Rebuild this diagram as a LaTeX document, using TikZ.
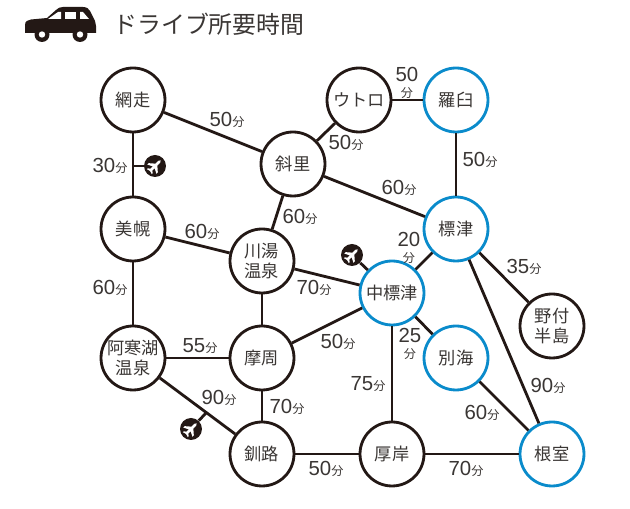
\documentclass[tikz,border=0pt]{standalone}
\usepackage{fontspec}
\setmainfont{Liberation Sans}
\newfontfamily\cjk{Noto Sans CJK JP}
\usepackage{xcolor}
\usepackage{tikz}
\definecolor{inkline}{HTML}{231815}
\definecolor{inktext}{HTML}{3A3634}
\definecolor{seablue}{HTML}{0A8BCB}
\newcommand{\fun}[1]{#1{\cjk\fontsize{6.9}{7.5}\selectfont 分}}
\newcommand{\funstack}[1]{#1\\[-2.5pt]{\cjk\fontsize{6.9}{7.5}\selectfont 分}}
\tikzset{
  town/.style={circle,draw=inkline,line width=1.6pt,fill=white,minimum size=1.28cm,inner sep=0pt,
    align=center,text=inktext,font=\cjk\fontsize{9.8}{11.3}\selectfont},
  port/.style={town,draw=seablue},
  road/.style={draw=inkline,line width=1.6pt},
  mins/.style={inner sep=0pt,text=inktext,align=center,font=\fontsize{11.6}{12}\selectfont},
  airport/.style={circle,fill=inkline,minimum size=0.44cm,inner sep=0pt},
  planemark/.pic={\fill[white,rotate=45] (8,0) -- (6,1.3) -- (2,1.3) -- (-2.5,6.5) -- (-4.5,6.5) -- (-1.8,1.3)
    -- (-5,1.3) -- (-6.8,3.4) -- (-8,3.4) -- (-7,0) -- (-8,-3.4) -- (-6.8,-3.4) -- (-5,-1.3)
    -- (-1.8,-1.3) -- (-4.5,-6.5) -- (-2.5,-6.5) -- (2,-1.3) -- (6,-1.3) -- cycle;}
}
\begin{document}
\begin{tikzpicture}[x=0.02cm,y=0.02cm]
        \useasboundingbox (0,0) rectangle (630,-509);
        % car and title
        \fill [inkline] (25,-33) -- (25,-25) .. controls (25,-21) and (28,-20) .. (31,-19.5) -- (47,-18)
          -- (56,-10) .. controls (58,-8) and (60,-7) .. (63,-7) -- (83,-7) .. controls (87,-7) and (89,-9) .. (90,-11)
          -- (95,-21) .. controls (96,-23) and (96,-24) .. (96,-26) -- (96,-33) -- cycle;
        \fill [white] (48,-19) -- (58,-12) -- (61,-12) -- (61,-19) -- cycle;
        \fill [white] (65,-12) rectangle (76,-19);
        \fill [white] (80,-12) -- (83,-12) -- (89,-19) -- (80,-19) -- cycle;
        \foreach \wx in {42,80} {
          \fill [inkline] (\wx,-34.5) circle (7.5);
          \fill [white] (\wx,-34.5) circle (3.2);
        }
        \node [anchor=west,inner sep=0pt,text=inktext,font=\cjk\fontsize{13.6}{15}\selectfont] (title) at (113,-24) {ドライブ所要時間};
        % towns
        \node [town] (abashiri) at (133,-100) {網走};
        \node [town] (shari) at (293,-164) {斜里};
        \node [town] (utoro) at (359,-100) {ウトロ};
        \node [port] (rausu) at (456,-100) {羅臼};
        \node [port] (shibetsu) at (456,-229) {標津};
        \node [port] (naka) at (392,-293) {中標津};
        \node [town] (kawayu) at (262,-261) {川湯\\温泉};
        \node [town] (bihoro) at (133,-229) {美幌};
        \node [town] (akan) at (133,-358) {阿寒湖\\温泉};
        \node [town] (mashu) at (262,-358) {摩周};
        \node [town] (kushiro) at (262,-454) {釧路};
        \node [town] (akkeshi) at (392,-454) {厚岸};
        \node [port] (nemuro) at (552,-454) {根室};
        \node [port] (bekkai) at (456,-358) {別海};
        \node [town] (notsuke) at (552,-326) {野付\\半島};
        % roads
        \draw [road] (abashiri) -- (shari);
        \draw [road] (abashiri) -- (bihoro);
        \draw [road] (shari) -- (utoro);
        \draw [road] (utoro) -- (rausu);
        \draw [road] (rausu) -- (shibetsu);
        \draw [road] (shari) -- (shibetsu);
        \draw [road] (shari) -- (kawayu);
        \draw [road] (bihoro) -- (kawayu);
        \draw [road] (bihoro) -- (akan);
        \draw [road] (kawayu) -- (naka);
        \draw [road] (kawayu) -- (mashu);
        \draw [road] (shibetsu) -- (naka);
        \draw [road] (shibetsu) -- (notsuke);
        \draw [road] (shibetsu) -- (nemuro);
        \draw [road] (naka) -- (bekkai);
        \draw [road] (naka) -- (mashu);
        \draw [road] (naka) -- (akkeshi);
        \draw [road] (bekkai) -- (nemuro);
        \draw [road] (akan) -- (mashu);
        \draw [road] (akan) -- (kushiro);
        \draw [road] (mashu) -- (kushiro);
        \draw [road] (kushiro) -- (akkeshi);
        \draw [road] (akkeshi) -- (nemuro);
        % airports
        \coordinate (memanbetsu) at (133,-166);
        \coordinate (tancho) at (206,-413);
        \node [airport] (planea) at (155,-166) {};
        \node [airport] (planeb) at (352,-255) {};
        \node [airport] (planec) at (191,-429) {};
        \draw [road] (memanbetsu) -- (planea);
        \draw [road] (naka) -- (planeb);
        \draw [road] (tancho) -- (planec);
        \pic at (planea) {planemark};
        \pic at (planeb) {planemark};
        \pic at (planec) {planemark};
        % times
        \node [mins] (ta) at (227,-120) {\fun{50}};
        \node [mins] (tb) at (110,-166) {\fun{30}};
        \node [mins] (tc) at (202,-232) {\fun{60}};
        \node [mins] (td) at (300,-217) {\fun{60}};
        \node [mins] (te) at (346,-143) {\fun{50}};
        \node [mins] (tf) at (407,-83) {\funstack{50}};
        \node [mins] (tg) at (480,-160) {\fun{50}};
        \node [mins] (th) at (399,-188) {\fun{60}};
        \node [mins] (ti) at (409,-248) {\funstack{20}};
        \node [mins] (tj) at (524,-267) {\fun{35}};
        \node [mins] (tk) at (314,-288) {\fun{70}};
        \node [mins] (tl) at (338,-342) {\fun{50}};
        \node [mins] (tm) at (200,-346) {\fun{55}};
        \node [mins] (tn) at (219,-398) {\fun{90}};
        \node [mins] (to) at (287,-407) {\fun{70}};
        \node [mins] (tp) at (326,-469) {\fun{50}};
        \node [mins] (tq) at (110,-288) {\fun{60}};
        \node [mins] (tr) at (410,-344) {\funstack{25}};
        \node [mins] (ts) at (368,-384) {\fun{75}};
        \node [mins] (tt) at (482,-413) {\fun{60}};
        \node [mins] (tu) at (548,-386) {\fun{90}};
        \node [mins] (tv) at (466,-469) {\fun{70}};
\end{tikzpicture}
\end{document}
